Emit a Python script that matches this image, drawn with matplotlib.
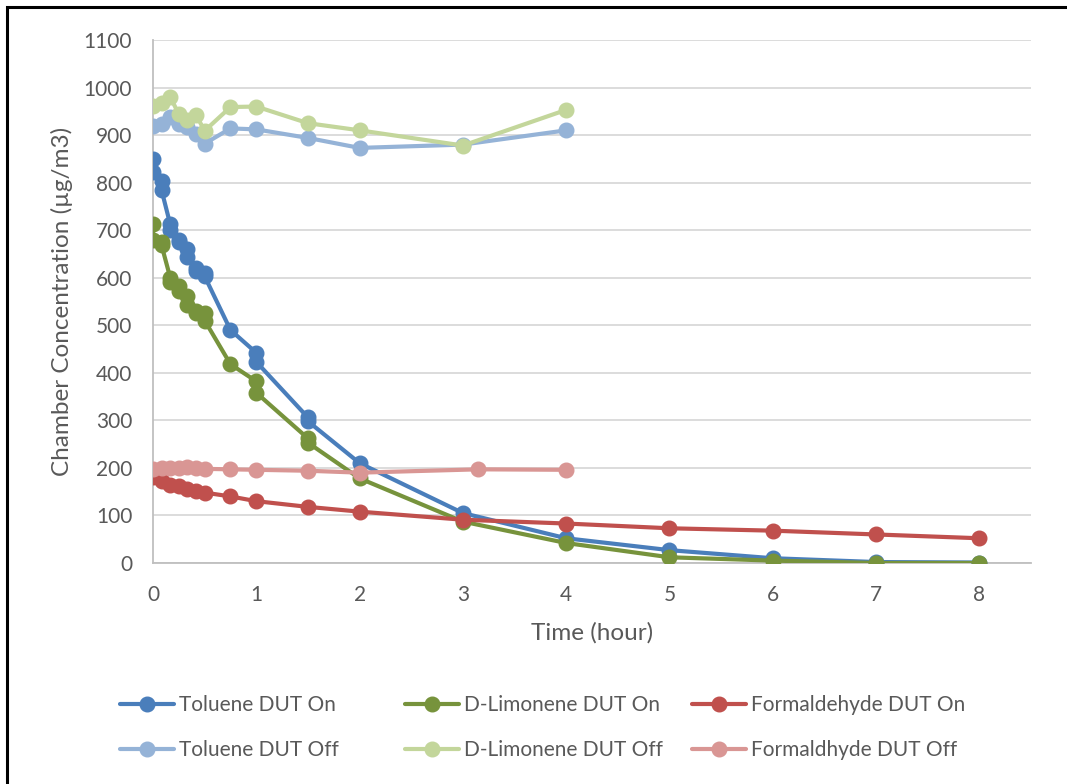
import matplotlib
matplotlib.use("Agg")
import matplotlib.pyplot as plt
from matplotlib.patches import Rectangle

plt.rcParams["font.family"] = ["Lato", "DejaVu Sans"]

# sampling times (hours); early points were measured twice
t_on = [0, 0, 0.083, 0.083, 0.167, 0.167, 0.25, 0.25, 0.333, 0.333, 0.417, 0.417,
        0.5, 0.5, 0.75, 1, 1, 1.5, 1.5, 2, 3, 4, 5, 6, 7, 8]
toluene_on = [850, 823, 803, 784, 712, 700, 680, 675, 660, 643, 620, 615,
              610, 603, 490, 442, 423, 306, 298, 210, 105, 52, 27, 10, 2, 1]
limonene_on = [712, 680, 675, 668, 600, 590, 582, 572, 562, 543, 530, 525,
               525, 510, 418, 382, 358, 262, 253, 178, 87, 42, 12, 5, 0, 0]

t_form_on = [0, 0.083, 0.167, 0.25, 0.333, 0.417, 0.5, 0.75, 1, 1.5, 2, 3, 4, 5, 6, 7, 8]
formaldehyde_on = [180, 172, 165, 162, 155, 152, 148, 140, 130, 118, 108, 91, 83, 73, 68, 60, 52]

t_off = [0, 0.083, 0.167, 0.25, 0.333, 0.417, 0.5, 0.75, 1, 1.5, 2, 3, 4]
toluene_off = [919, 923, 938, 923, 917, 902, 882, 914, 912, 894, 873, 880, 910]
limonene_off = [962, 968, 980, 944, 932, 942, 909, 959, 960, 925, 910, 878, 953]

t_form_off = [0, 0.083, 0.167, 0.25, 0.333, 0.417, 0.5, 0.75, 1, 1.5, 2, 3.15, 4]
formaldehyde_off = [198, 200, 200, 200, 202, 200, 198, 197, 196, 194, 190, 197, 196]

series = [
    ("Toluene DUT On", t_on, toluene_on, "#4A7EBB"),
    ("D-Limonene DUT On", t_on, limonene_on, "#77933C"),
    ("Formaldehyde DUT On", t_form_on, formaldehyde_on, "#C0504D"),
    ("Toluene DUT Off", t_off, toluene_off, "#95B3D7"),
    ("D-Limonene DUT Off", t_off, limonene_off, "#C3D69B"),
    ("Formaldhyde DUT Off", t_form_off, formaldehyde_off, "#D99694"),
]

text_color = "#595959"

fig = plt.figure(figsize=(10.67, 7.84), dpi=100)
ax = fig.add_axes([0.1434, 0.2819, 0.8229, 0.6671])

handles = {}
for name, x, y, color in series:
    (h,) = ax.plot(x, y, color=color, lw=3, marker="o", markersize=10.5,
                   solid_capstyle="round", label=name, zorder=3)
    handles[name] = h

ax.set_xlim(0, 8.5)
ax.set_ylim(0, 1100)
ax.set_xticks(range(0, 9))
ax.set_yticks(range(0, 1101, 100))
ax.grid(axis="y", color="#D9D9D9", lw=1.3)
ax.set_axisbelow(True)
for s in ["top", "right"]:
    ax.spines[s].set_visible(False)
for s in ["left", "bottom"]:
    ax.spines[s].set_color("#BFBFBF")
    ax.spines[s].set_linewidth(1.3)
ax.tick_params(length=0, labelsize=15, colors=text_color)
ax.tick_params(axis="x", pad=16)
ax.tick_params(axis="y", pad=15)
ax.set_xlabel("Time (hour)", fontsize=17.5, color=text_color, labelpad=12)
ax.set_ylabel("Chamber Concentration (µg/m3)", fontsize=17.5, color=text_color, labelpad=8)

# Excel lays the legend out in equal-width columns, so one legend per column
columns = [
    (["Toluene DUT On", "Toluene DUT Off"], 120 / 1067),
    (["D-Limonene DUT On", "D-Limonene DUT Off"], 405 / 1067),
    (["Formaldehyde DUT On", "Formaldhyde DUT Off"], 692 / 1067),
]
for names, x0 in columns:
    fig.legend([handles[k] for k in names], names, loc="center left",
               bbox_to_anchor=(x0, 0.072), frameon=False, fontsize=15,
               handlelength=2.6, handletextpad=0.25, labelspacing=1.2,
               borderpad=0, borderaxespad=0, labelcolor=text_color)

# chart border (cropped on the right and bottom in the original)
fig.add_artist(Rectangle((7 / 1067, -0.01), 1.02, 1.0011,
                         transform=fig.transFigure, fill=False, ec="black", lw=2.2))

fig.savefig("out.png", dpi=100)
